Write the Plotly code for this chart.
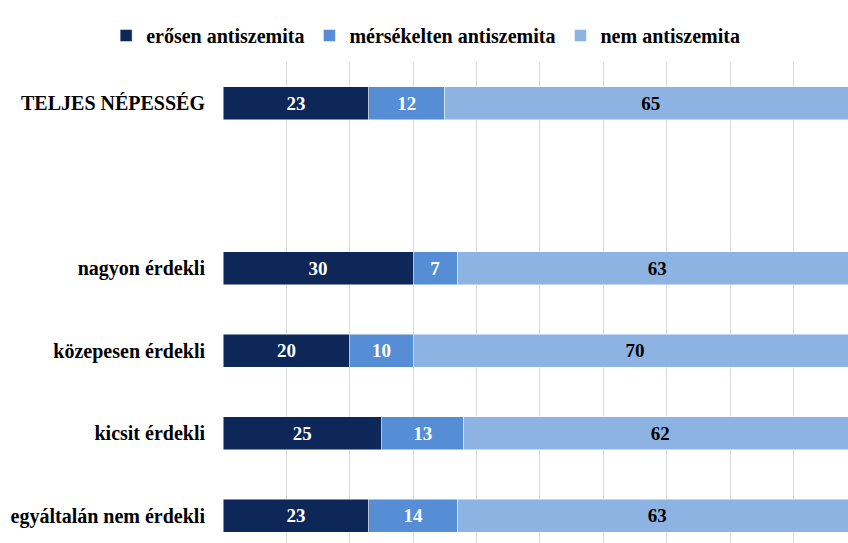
import plotly.graph_objects as go

categories = ["TELJES NÉPESSÉG", "", "nagyon érdekli", "közepesen érdekli", "kicsit érdekli", "egyáltalán nem érdekli"]
series_names = ["erősen antiszemita", "mérsékelten antiszemita", "nem antiszemita"]
eros = [23, None, 30, 20, 25, 23]
merseklet = [12, None, 7, 10, 13, 14]
nem = [65, None, 63, 70, 62, 63]

colors = ["#0d2759", "#558ed5", "#8db3e2"]
text_colors = ["white", "white", "black"]
ypos = list(range(len(categories)))

fig = go.Figure()
for name, vals, col, tcol in zip(series_names, [eros, merseklet, nem], colors, text_colors):
    fig.add_trace(go.Bar(
        y=ypos, x=vals, name=name, orientation="h",
        marker=dict(color=col, line=dict(color="rgba(255,255,255,0.6)", width=0.8)),
        width=0.405,
        text=[str(v) if v is not None else "" for v in vals],
        textposition="inside", insidetextanchor="middle",
        textfont=dict(family="Liberation Serif", size=19, color=tcol, weight="bold"),
        constraintext="none",
    ))

ticktext = []
for c in categories:
    if c == "TELJES NÉPESSÉG":
        ticktext.append('<span style="font-size:20px">' + c + '</span>')
    else:
        ticktext.append(c)

fig.update_layout(
    barmode="stack",
    width=848, height=543,
    margin=dict(l=223, r=0, t=62, b=0),
    paper_bgcolor="white", plot_bgcolor="white",
    font=dict(family="Liberation Serif", size=19, color="black", weight="bold"),
    showlegend=True,
    legend=dict(orientation="h", xref="paper", yref="paper", x=-0.187, y=1.055,
                xanchor="left", yanchor="middle",
                font=dict(family="Liberation Serif", size=20, color="black", weight="bold"),
                itemwidth=30, traceorder="normal"),
    xaxis=dict(range=[0, 98.6], dtick=10, showgrid=True, gridcolor="#d9d9d9", gridwidth=1,
               showticklabels=False, zeroline=False, showline=False, ticks=""),
    yaxis=dict(range=[5.33, -0.5], tickvals=ypos, ticktext=ticktext, showgrid=False,
               zeroline=False, showline=False, ticks="", ticklabelstandoff=17,
               tickfont=dict(family="Liberation Serif", size=20, color="black", weight="bold")),
    bargap=0.6,
)

fig.write_html("out.html", config={"displayModeBar": False},
               post_script="document.body.style.margin='0';document.body.style.overflow='hidden';")
